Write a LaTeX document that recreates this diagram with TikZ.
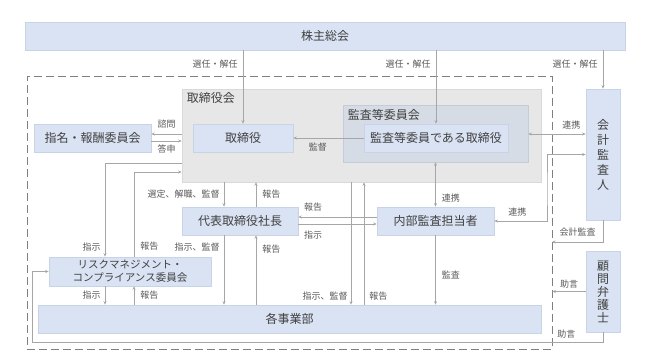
\documentclass[tikz,border=0pt]{standalone}
\usepackage{fontspec}
\setmainfont{Noto Sans CJK JP}
\usepackage{tikz}
\usetikzlibrary{arrows.meta,positioning}
\definecolor{boxblue}{RGB}{218,227,243}
\definecolor{boxline}{RGB}{200,211,230}
\definecolor{boardgray}{RGB}{231,231,231}
\definecolor{boardline}{RGB}{217,217,217}
\definecolor{cmtblue}{RGB}{214,220,229}
\definecolor{cmtline}{RGB}{196,204,216}
\definecolor{linegray}{RGB}{166,166,166}
\definecolor{dashgray}{RGB}{128,128,128}
\definecolor{textgray}{RGB}{64,64,64}
\definecolor{lblgray}{RGB}{89,89,89}
\tikzset{
  orgbox/.style={draw=boxline, fill=boxblue, text=textgray, font=\fontsize{12}{14}\selectfont, inner sep=0pt, line width=0.6pt},
  boardbox/.style={draw=boardline, fill=boardgray, line width=0.6pt},
  cmtbox/.style={draw=cmtline, fill=cmtblue, line width=0.6pt},
  dashbox/.style={draw=dashgray, line width=0.8pt, dash pattern=on 8pt off 4pt},
  grouptitle/.style={text=textgray, font=\fontsize{12}{14}\selectfont, inner sep=1pt, anchor=west},
  lbl/.style={text=lblgray, font=\fontsize{9}{10}\selectfont, inner sep=1pt},
  link/.style={draw=linegray, line width=0.7pt, -{Stealth[length=3.5pt,width=3pt]}},
  twoway/.style={draw=linegray, line width=0.7pt, {Stealth[length=3.5pt,width=3pt]}-{Stealth[length=3.5pt,width=3pt]}},
}

\begin{document}
\begin{tikzpicture}[x=1pt, y=-1pt]
  \useasboundingbox (0,0) rectangle (645,363);

  \node[orgbox, minimum width=600pt, minimum height=28pt] (holders) at (325,36) {株主総会};
  \node[dashbox, minimum width=525pt, minimum height=273pt] (company) at (289.5,212.5) {};
  \node[boardbox, minimum width=359pt, minimum height=93pt] (board) at (361.5,135.5) {};
  \node[grouptitle] (boardname) at ([xshift=4pt,yshift=-9pt]board.north west) {取締役会};
  \node[cmtbox, minimum width=185pt, minimum height=57pt] (committee) at (435.5,133.5) {};
  \node[grouptitle] (cmtname) at ([xshift=4pt,yshift=-10pt]committee.north west) {監査等委員会};
  \node[orgbox, minimum width=144pt, minimum height=28pt] (auditdir) at (436,138) {監査等委員である取締役};
  \node[orgbox, minimum width=100pt, minimum height=28pt] (director) at (243,138) {取締役};
  \node[orgbox, minimum width=117pt, minimum height=28pt] (nomination) at (92.5,138) {指名・報酬委員会};
  \node[orgbox, minimum width=116pt, minimum height=28pt] (president) at (240,221) {代表取締役社長};
  \node[orgbox, minimum width=117pt, minimum height=28pt] (internal) at (435.5,221) {内部監査担当者};
  \node[orgbox, minimum width=34pt, minimum height=131pt, align=center, font=\fontsize{12}{15}\selectfont] (auditor) at (603,154.5) {会\\計\\監\\査\\人};
  \node[orgbox, minimum width=34pt, minimum height=81pt, align=center, font=\fontsize{12}{13}\selectfont] (lawyer) at (603,291.5) {顧\\問\\弁\\護\\士};
  \node[orgbox, minimum width=162pt, minimum height=29pt, align=center, font=\fontsize{10.5}{13}\selectfont] (risk) at (130,271.5) {リスクマネジメント・\\コンプライアンス委員会};
  \node[orgbox, minimum width=503pt, minimum height=28pt] (divisions) at (289.5,319) {各事業部};

  \coordinate (askpt) at ([yshift=4pt]nomination.east);
  \coordinate (anspt) at ([yshift=-3pt]nomination.east);
  \coordinate (cooppt) at ([yshift=4pt]auditdir.east);
  \coordinate (coopbend) at (547,190);
  \coordinate (accpt) at (552,242);
  \coordinate (advpt) at (32,342);
  \coordinate (cmdpt) at (105,163);
  \coordinate (reppt) at (134,172);
  \coordinate (selcol) at (224,200);
  \coordinate (repcol) at (256,200);
  \coordinate (rep2) at ([yshift=4pt]internal.west);
  \coordinate (cmd2) at ([yshift=-3pt]internal.west);
  \coordinate (cmd3) at (351,250);
  \coordinate (rep3) at (364,250);

  \draw[link] (holders.south -| director) -- (director.north) node[lbl, left=4pt, pos=0.19] (l1) {選任・解任};
  \draw[link] (holders.south -| auditdir) -- (auditdir.north) node[lbl, left=4pt, pos=0.19] (l2) {選任・解任};
  \draw[link] (holders.south -| auditor) -- (auditor.north) node[lbl, left=4pt, pos=0.36] (l3) {選任・解任};

  \draw[link] (askpt -| board.west) -- (askpt) node[lbl, above=4.5pt, midway] (l4) {諮問};
  \draw[link] (anspt) -- (anspt -| board.west) node[lbl, below=2.5pt, midway] (l5) {答申};
  \draw[link] (auditdir.west) -- (director.east) node[lbl, below=3.5pt, pos=0.65] (l6) {監督};
  \draw[twoway] (cooppt -| committee.east) -- (cooppt -| auditor.west) node[lbl, above=3.5pt, pos=0.75] (l7) {連携};
  \draw[twoway] (committee.south -| internal) -- (internal.north) node[lbl, right=5pt, pos=0.8] (l8) {連携};
  \draw[twoway] (auditor.west) -| (coopbend) |- (internal.east) node[lbl, above=3.5pt, pos=0.78] (l9) {連携};

  \draw[link] (auditor.south) |- (accpt) node[lbl, above=4.5pt, pos=0.75] (l10) {会計監査};
  \draw[link] (lawyer.west) -- (lawyer.west -| company.east) node[lbl, above=2pt, midway] (l11) {助言};
  \draw[link] (lawyer.south) |- (advpt) node[lbl, above=2.5pt, pos=0.532] (l12) {助言} |- (risk.west);

  \draw[link] (cmdpt -| board.west) -- (cmdpt) -- (cmdpt |- risk.north) node[lbl, left=3pt, pos=0.9] (l13) {指示};
  \draw[link] (reppt |- risk.north) -- node[lbl, right=5pt, pos=0.12] (l14) {報告} (reppt) -- (reppt -| board.west);

  \draw[link] (selcol |- board.south) -- (selcol |- president.north) node[lbl, left=3pt, midway] (l15) {選定、解職、監督};
  \draw[link] (repcol |- president.north) -- (repcol |- board.south) node[lbl, right=5pt, midway] (l16) {報告};
  \draw[link] (rep2) -- (rep2 -| president.east) node[lbl, above=4.5pt, pos=0.81] (l17) {報告};
  \draw[link] (cmd2 -| president.east) -- (cmd2) node[lbl, below=5.5pt, pos=0.19] (l18) {指示};

  \draw[link] (selcol |- president.south) -- (selcol |- divisions.north) node[lbl, left=3pt, pos=0.17] (l19) {指示、監督};
  \draw[link] (repcol |- divisions.north) -- (repcol |- president.south) node[lbl, right=5pt, pos=0.8] (l20) {報告};
  \draw[link] (cmdpt |- risk.south) -- (cmdpt |- divisions.north) node[lbl, left=3pt, midway] (l21) {指示};
  \draw[link] (reppt |- divisions.north) -- (reppt |- risk.south) node[lbl, right=5pt, midway] (l22) {報告};
  \draw[link] (cmd3 |- board.south) -- (cmd3 |- divisions.north) node[lbl, left=2pt, pos=0.93] (l23) {指示、監督};
  \draw[link] (rep3 |- divisions.north) -- (rep3 |- board.south) node[lbl, right=4pt, pos=0.07] (l24) {報告};
  \draw[link] (internal.south) -- (internal.south |- divisions.north) node[lbl, right=5pt, pos=0.57] (l25) {監査};
\end{tikzpicture}
\end{document}
